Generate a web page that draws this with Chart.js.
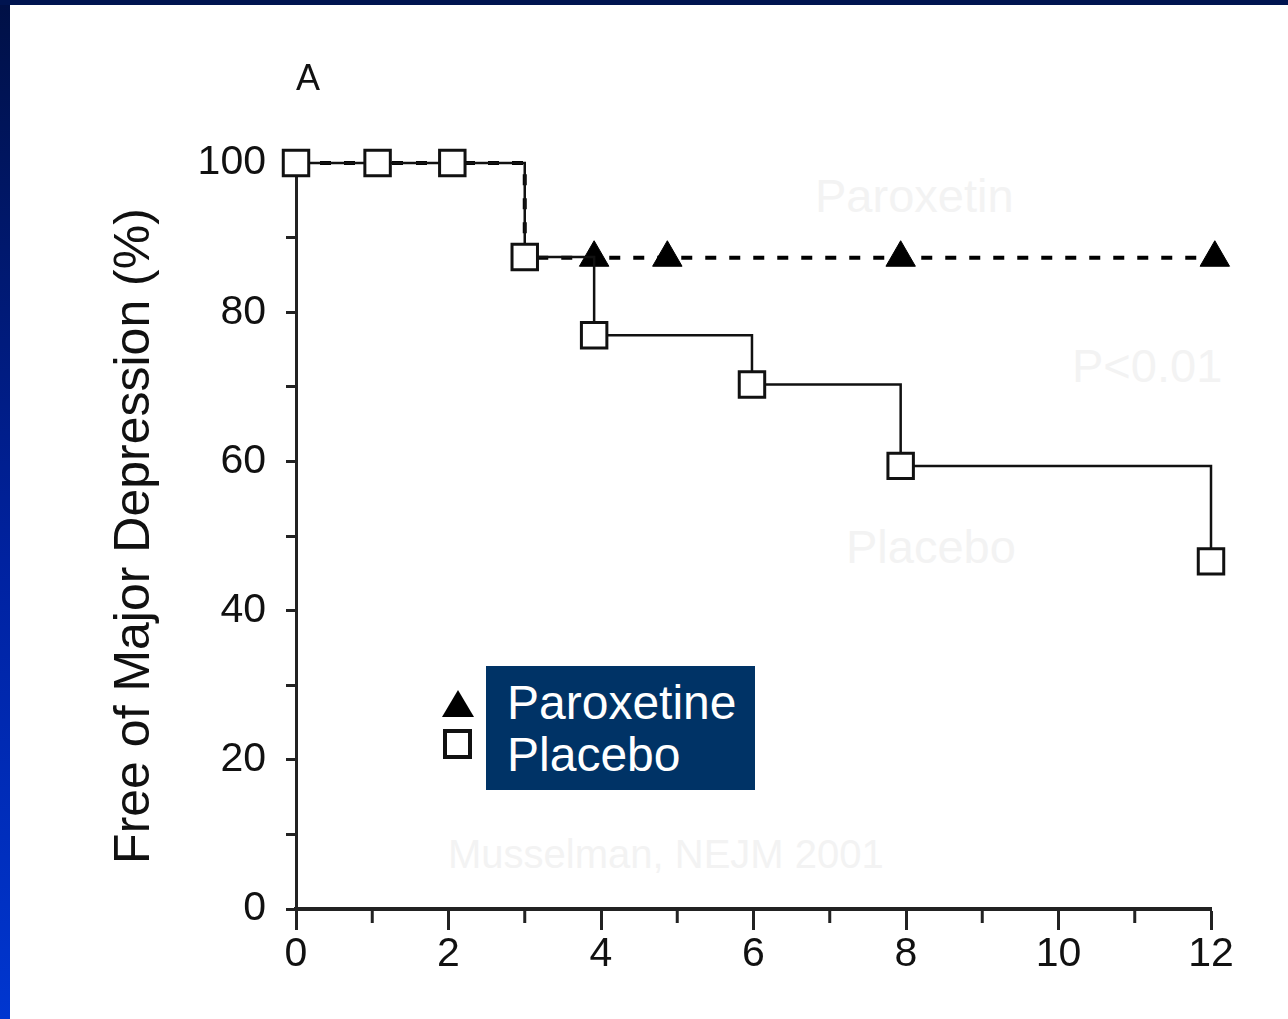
<!DOCTYPE html>
<html>
<head>
<meta charset="utf-8">
<script src="https://cdn.jsdelivr.net/npm/chart.js@4.4.0/dist/chart.umd.min.js"></script>
<style>
  html, body { margin: 0; padding: 0; }
  body {
    width: 1288px; height: 1019px; position: relative; overflow: hidden;
    background: linear-gradient(to bottom, #001045 0%, #0022a0 55%, #0036d0 100%);
    font-family: 'Liberation Sans', Arial, sans-serif;
  }
  #topbar { position: absolute; left: 0; top: 0; width: 1288px; height: 5px; background: #001450; }
  #panel { position: absolute; left: 10px; top: 5px; width: 1278px; height: 1014px; background: #fff; }
  #chart { position: absolute; left: 0; top: 0; }
  .txt { position: absolute; white-space: nowrap; line-height: 1; }
  .faint { color: #f3f3f3; font-size: 47px; }
  #legend {
    position: absolute; left: 476px; top: 661px; width: 248px;
    padding: 11px 0 9px 21px; background: #003366; color: #fff;
    font-size: 48px; line-height: 52px;
  }
  #legTri {
    position: absolute; left: 432px; top: 685px; width: 32px; height: 27px;
    background: #000; clip-path: polygon(50% 0, 100% 100%, 0 100%);
  }
  #legSq {
    position: absolute; left: 433px; top: 724px; width: 21px; height: 22px;
    border: 4px solid #111; background: #fff;
  }
</style>
</head>
<body>
<div id="topbar"></div>
<div id="panel">
  <div class="txt faint" style="left:805px; top:167px;">Paroxetin</div>
  <div class="txt faint" style="left:1062px; top:337px;">P&lt;0.01</div>
  <div class="txt faint" style="left:836px; top:518px;">Placebo</div>
  <div class="txt faint" style="left:438px; top:829px; font-size:40px;">Musselman, NEJM 2001</div>
  <canvas id="chart" width="1278" height="1014"></canvas>
  <div class="txt" style="left:286px; top:55px; font-size:36px; color:#111;">A</div>
  <div id="legTri"></div>
  <div id="legSq"></div>
  <div id="legend">Paroxetine<br>Placebo</div>
</div>
<script>
// Kaplan-Meier data (weeks, % free of major depression)
const placeboWeeks = [0, 1.07, 2.05, 3, 3.91, 5.98, 7.93, 12];
const placeboPct = [100, 100, 100, 87.4, 76.9, 70.3, 59.4, 46.6];

// first two points are only the step (no marker), then the triangles
const paroxWeeks = [0, 3, 3.91, 4.87, 7.93, 12.05];
const paroxPct = [100, 87.3, 87.3, 87.3, 87.3, 87.3];
const paroxMarker = [false, false, true, true, true, true];

const xTickLabels = [0, 2, 4, 6, 8, 10, 12];
const xMinorTicks = [1, 3, 5, 7, 9, 11];
const yTickLabels = [0, 20, 40, 60, 80, 100];

const axisColor = '#222';
const tickFont = { family: "'Liberation Sans Narrow', 'Liberation Sans', Arial, sans-serif", size: 41 };

// kleine tick-streepjes op de oneven weken (korter dan de hoofdticks)
const minorTicks = {
    id: 'minorTicks',
    afterDraw(chart) {
        const { ctx, chartArea } = chart;
        const x = chart.scales.x;
        ctx.save();
        ctx.strokeStyle = axisColor;
        ctx.lineWidth = 3;
        xMinorTicks.forEach(w => {
            const px = x.getPixelForValue(w);
            ctx.beginPath();
            ctx.moveTo(px, chartArea.bottom);
            ctx.lineTo(px, chartArea.bottom + 14);
            ctx.stroke();
        });
        ctx.restore();
    }
};

const toPoints = (xs, ys) => xs.map((v, i) => ({ x: v, y: ys[i] }));

new Chart(document.getElementById('chart'), {
    type: 'line',
    data: {
        datasets: [
            {
                label: 'Paroxetine',
                data: toPoints(paroxWeeks, paroxPct),
                stepped: 'before',
                borderColor: '#000',
                borderWidth: 4,
                borderDash: [11, 13],
                pointStyle: 'triangle',
                pointRadius: paroxMarker.map(m => m ? 17 : 0),
                pointBackgroundColor: '#000',
                pointBorderColor: '#000',
                pointBorderWidth: 1,
                clip: false,
                order: 2,
            },
            {
                label: 'Placebo',
                data: toPoints(placeboWeeks, placeboPct),
                stepped: 'before',
                borderColor: '#111',
                borderWidth: 2.5,
                pointStyle: 'rect',
                pointRadius: 18,
                pointBackgroundColor: '#fff',
                pointBorderColor: '#111',
                pointBorderWidth: 3,
                clip: false,
                order: 1,
            },
        ],
    },
    options: {
        responsive: false,
        animation: false,
        events: [],
        layout: { padding: { left: 0, top: 158, right: 77, bottom: 0 } },
        plugins: { legend: { display: false }, tooltip: { enabled: false } },
        scales: {
            x: {
                type: 'linear',
                min: 0, max: 12,
                afterFit: s => { s.height = 110; },
                border: { display: true, color: axisColor, width: 4 },
                grid: {
                    drawOnChartArea: false,
                    drawTicks: true,
                    tickLength: 21,
                    tickWidth: 3,
                    tickColor: axisColor,
                },
                ticks: {
                    stepSize: 2,
                    autoSkip: false,
                    maxRotation: 0,
                    padding: 0,
                    color: '#111',
                    font: tickFont,
                    callback: v => xTickLabels.includes(v) ? String(v) : '',
                },
            },
            y: {
                min: 0, max: 100,
                afterFit: s => { s.width = 286; },
                border: { display: true, color: axisColor, width: 3 },
                grid: {
                    drawOnChartArea: false,
                    drawTicks: true,
                    tickLength: 10,
                    tickWidth: 3,
                    tickColor: axisColor,
                },
                ticks: {
                    stepSize: 10,
                    autoSkip: false,
                    padding: 20,
                    color: '#111',
                    font: tickFont,
                    callback: v => yTickLabels.includes(v) ? String(v) : '',
                },
                title: {
                    display: true,
                    text: 'Free of Major Depression (%)',
                    color: '#111',
                    font: { family: "'Liberation Sans', Arial, sans-serif", size: 50, lineHeight: 1 },
                    padding: { top: 100, bottom: 0 },
                },
            },
        },
    },
    plugins: [minorTicks],
});
</script>
</body>
</html>
